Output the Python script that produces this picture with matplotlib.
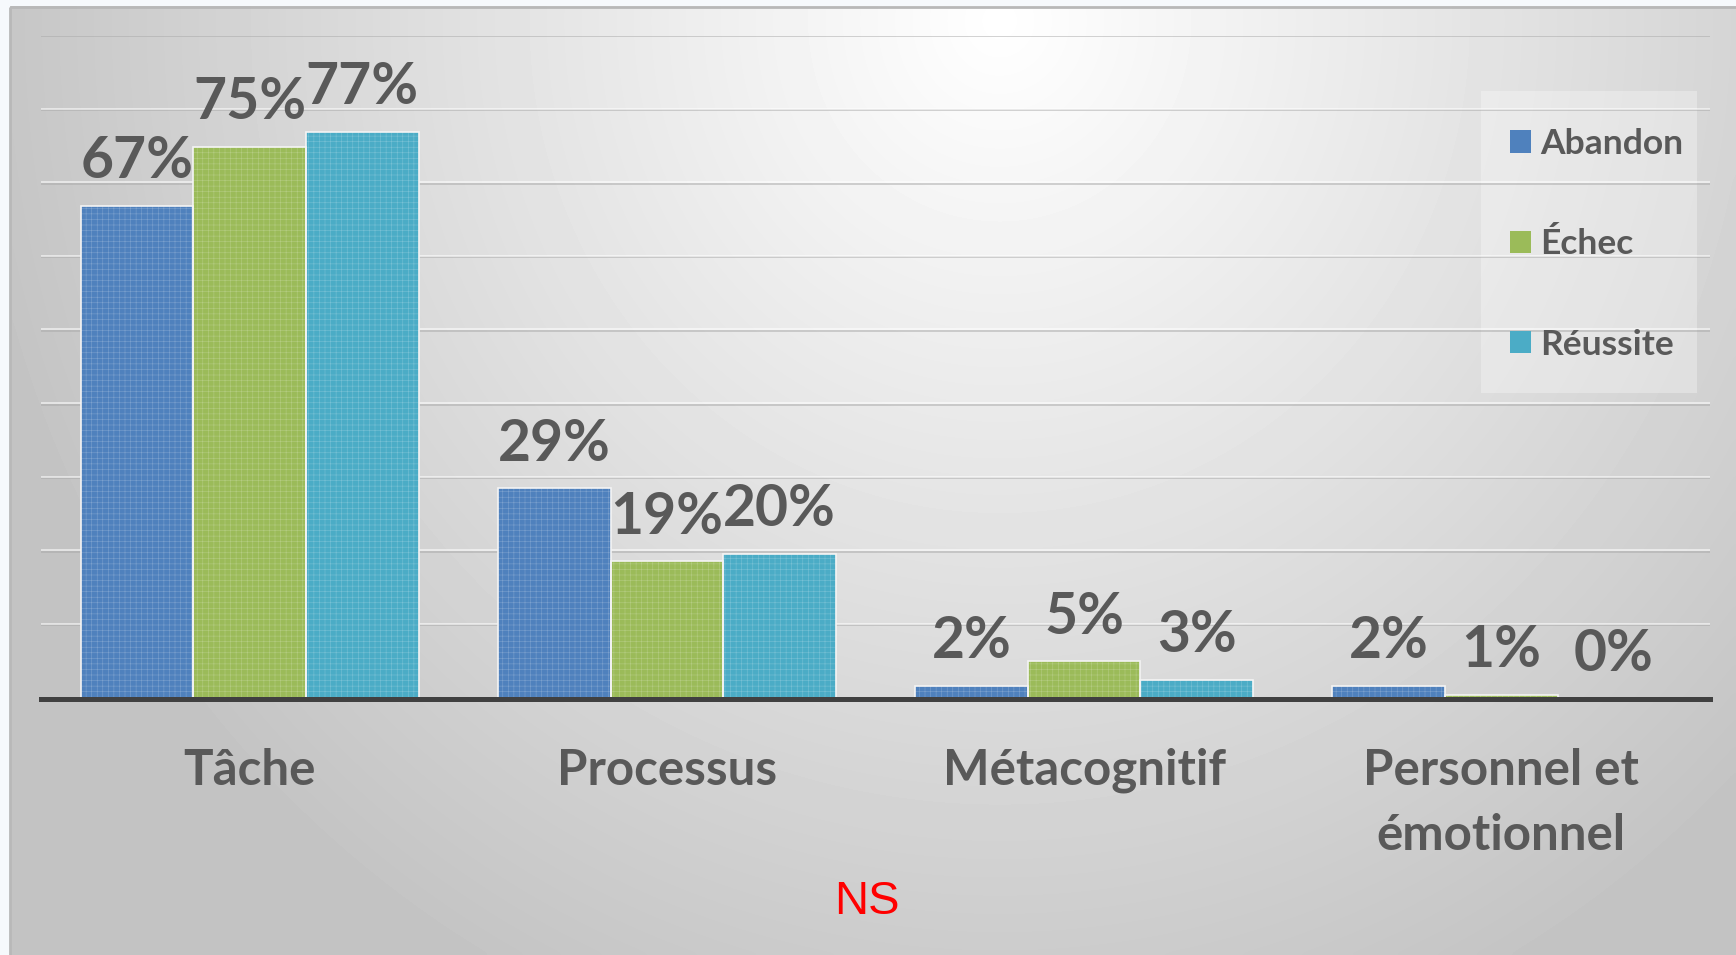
import numpy as np
import matplotlib
matplotlib.use("Agg")
import matplotlib.pyplot as plt
import matplotlib.transforms as mtransforms
from matplotlib.patches import Patch, Rectangle

categories = ["Tâche", "Processus", "Métacognitif", "Personnel et\némotionnel"]
series = ["Abandon", "Échec", "Réussite"]
abandon = [0.67, 0.286, 0.018, 0.018]
echec = [0.75, 0.187, 0.051, 0.006]
reussite = [0.77, 0.197, 0.026, 0.0]
colors = ["#4f81bd", "#9bbb59", "#4bacc6"]

W, H = 1736, 955
text_col = "#595959"
plt.rcParams["font.family"] = ["Lato", "DejaVu Sans"]
plt.rcParams["hatch.linewidth"] = 0.4

fig = plt.figure(figsize=(W / 100, H / 100), dpi=100, facecolor="#f6f9fc")

# background panel with a soft radial gradient
bg = fig.add_axes([0, 0, 1, 1])
bg.set_xlim(0, W)
bg.set_ylim(H, 0)
bg.axis("off")
X, Y = np.meshgrid(np.linspace(10, W, 400), np.linspace(7, H, 220))
t = np.sqrt(((X - 1000) / 1050) ** 2 + ((Y - 20) / 1100) ** 2)
grad = 1 - 0.235 * np.clip(t, 0, 1)
bg.imshow(grad, extent=(10, W, H, 7), cmap="gray", vmin=0, vmax=1,
          aspect="auto", interpolation="bicubic")
bg.add_patch(Rectangle((10, 7), W, H, fill=False, edgecolor="#b8b8b8", lw=2))
# legend backdrop
bg.add_patch(Rectangle((1481, 91), 216, 302, facecolor="white", alpha=0.3,
                       edgecolor="none", hatch="+++", zorder=3))

ax = fig.add_axes([41 / W, 1 - 699 / H, (1710 - 41) / W, (699 - 36.5) / H])
ax.set_facecolor("none")

x = np.arange(len(categories))
width = 0.27
offsets = [-width, 0, width]

# gridlines: grey line plus a faint white highlight
white_tr = mtransforms.offset_copy(ax.transData, fig=fig, x=0, y=1.6, units="dots")
for g in np.arange(0.1, 0.91, 0.1):
    ax.axhline(g, color="#a8a8a8", lw=1.3, alpha=0.55, zorder=0)
    ax.plot([-0.5, 3.5], [g, g], color="white", lw=1.3, alpha=0.6,
            transform=white_tr, zorder=0)

for vals, off, col in zip([abandon, echec, reussite], offsets, colors):
    ax.bar(x + off, vals, width, color=col, edgecolor=(1, 1, 1, 0.25),
           hatch="+++", lw=0, zorder=2)
    ax.bar(x + off, vals, width, facecolor="none", edgecolor="#f4f4f4",
           lw=1.2, zorder=3)
    for xi, v in zip(x + off, vals):
        ax.annotate(f"{round(v * 100)}%", (xi, v), xytext=(0, 20),
                    textcoords="offset points", ha="center", va="baseline",
                    fontsize=41, fontweight="bold", color=text_col, zorder=4)

ax.set_xlim(-0.5, 3.5)
ax.set_ylim(0, 0.9)
ax.set_yticks([])
ax.set_xticks(x)
ax.set_xticklabels(categories, fontsize=35.5, fontweight="bold", color=text_col,
                   linespacing=1.56)
ax.tick_params(axis="x", length=0, pad=35)
for s in ["top", "left", "right"]:
    ax.spines[s].set_visible(False)
ax.spines["bottom"].set_color("#404040")
ax.spines["bottom"].set_linewidth(3.6)
ax.spines["bottom"].set_zorder(5)

handles = [Patch(facecolor=c, edgecolor="none") for c in colors]
leg = ax.legend(handles, series, loc="upper left",
                bbox_to_anchor=(1510 / W, 1 - 128 / H), bbox_transform=fig.transFigure,
                frameon=False, handlelength=0.6, handleheight=0.6,
                handletextpad=0.25, labelspacing=1.93, borderpad=0,
                borderaxespad=0,
                prop={"family": "Lato", "weight": "bold", "size": 25.5})
for txt in leg.get_texts():
    txt.set_color(text_col)

fig.text(867 / W, 1 - 902 / H, "NS", color="red", fontsize=34,
         family="Liberation Sans", ha="center", va="center")

fig.savefig("out.png", dpi=100, facecolor=fig.get_facecolor())
